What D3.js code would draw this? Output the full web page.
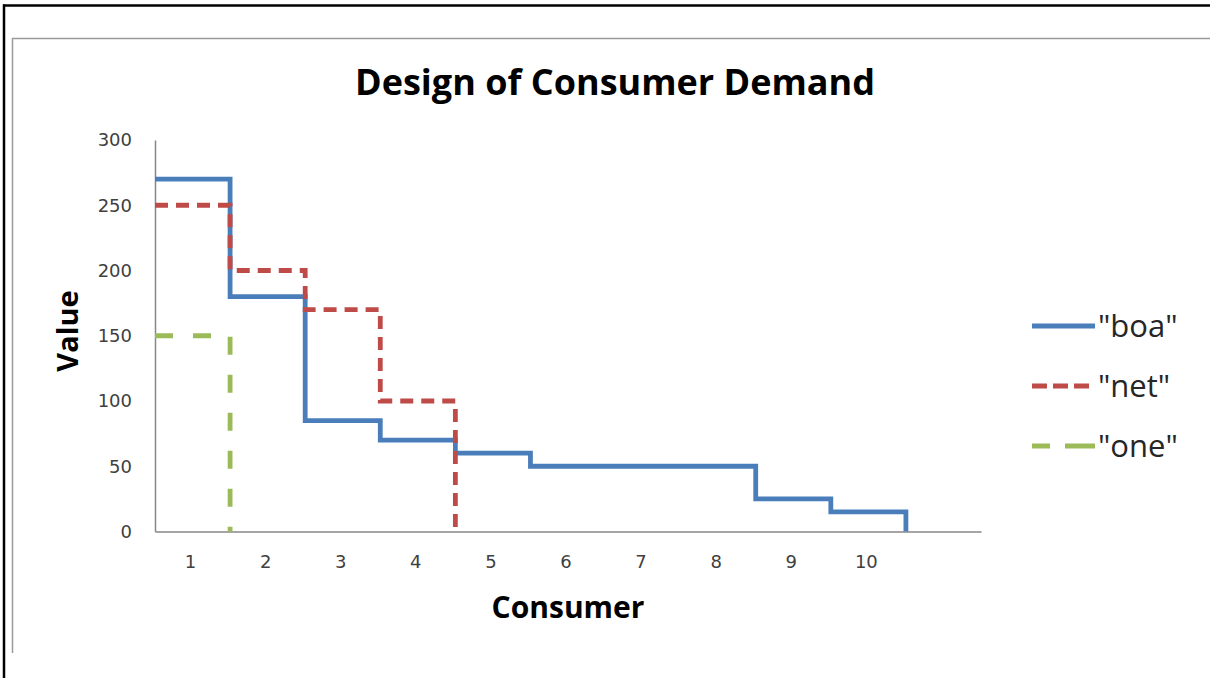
<!DOCTYPE html>
<html>
<head>
<meta charset="utf-8">
<script src="https://cdn.jsdelivr.net/npm/d3@7"></script>
<style>
  html, body { margin: 0; padding: 0; background: #fff; }
  svg { display: block; }
</style>
</head>
<body>
<svg id="chart" width="1210" height="678"></svg>
<script>
// Consumer slots on the category axis (the last slot is left unlabelled)
const consumers = ["1", "2", "3", "4", "5", "6", "7", "8", "9", "10", ""];
// Demand value of each consumer, per series
const boaValues = [270, 180, 85, 70, 60, 50, 50, 50, 25, 15];
const netValues = [250, 200, 170, 100];
const oneValues = [150];
const seriesNames = ['"boa"', '"net"', '"one"'];
const yTicks = [0, 50, 100, 150, 200, 250, 300];

const series = [
  { name: seriesNames[0], values: boaValues, color: "#4a7ebb", dash: null, legendDash: null },
  { name: seriesNames[1], values: netValues, color: "#be4b48", dash: "13,8", legendDash: "15,6" },
  { name: seriesNames[2], values: oneValues, color: "#9bbb59", dash: "18,20", legendDash: "18,15,30" }
];

const svg = d3.select("#chart");

// Page frame: black border and the grey chart-area edge
svg.append("line").attr("x1", 3).attr("x2", 1210).attr("y1", 5.5).attr("y2", 5.5)
  .attr("stroke", "#000").attr("stroke-width", 2.5);
svg.append("line").attr("x1", 4).attr("x2", 4).attr("y1", 4.5).attr("y2", 678)
  .attr("stroke", "#000").attr("stroke-width", 2.5);
svg.append("line").attr("x1", 12).attr("x2", 1210).attr("y1", 38.5).attr("y2", 38.5)
  .attr("stroke", "#9a9a9a").attr("stroke-width", 1.5);
svg.append("line").attr("x1", 12.5).attr("x2", 12.5).attr("y1", 38).attr("y2", 653)
  .attr("stroke", "#9a9a9a").attr("stroke-width", 1.5);

const plot = { left: 155, right: 981, top: 140, bottom: 531.5 };

const x = d3.scaleBand().domain(consumers).range([plot.left, plot.right]).padding(0);
const y = d3.scaleLinear().domain([0, 300]).range([plot.bottom, plot.top]);

// Title
svg.append("text")
  .attr("x", 615).attr("y", 95)
  .attr("text-anchor", "middle")
  .attr("font-family", "'Open Sans', sans-serif")
  .attr("font-weight", "bold")
  .attr("font-size", 36)
  .attr("fill", "#000")
  .text("Design of Consumer Demand");

// Y axis
const yAxis = svg.append("g")
  .attr("transform", `translate(${plot.left},0)`)
  .call(d3.axisLeft(y).tickValues(yTicks).tickSize(0).tickPadding(23));
yAxis.select(".domain").attr("stroke", "#878787").attr("stroke-width", 1.5);
yAxis.selectAll("text")
  .attr("font-family", "'DejaVu Sans', sans-serif")
  .attr("font-size", 18)
  .attr("fill", "#404040");

// X axis
const xAxis = svg.append("g")
  .attr("transform", `translate(0,${plot.bottom})`)
  .call(d3.axisBottom(x).tickSize(0).tickPadding(24));
xAxis.select(".domain").attr("stroke", "#878787").attr("stroke-width", 1.5);
xAxis.selectAll("text")
  .attr("font-family", "'DejaVu Sans', sans-serif")
  .attr("font-size", 18)
  .attr("fill", "#404040")
  .attr("dx", -2);

// Axis titles
svg.append("text")
  .attr("transform", "translate(78,331) rotate(-90)")
  .attr("text-anchor", "middle")
  .attr("font-family", "'Open Sans', sans-serif")
  .attr("font-weight", "bold")
  .attr("font-size", 29)
  .attr("fill", "#000")
  .text("Value");

svg.append("text")
  .attr("x", 568).attr("y", 618)
  .attr("text-anchor", "middle")
  .attr("font-family", "'Open Sans', sans-serif")
  .attr("font-weight", "bold")
  .attr("font-size", 30)
  .attr("fill", "#000")
  .text("Consumer");

// Step lines: each consumer holds its value across its slot,
// and the curve drops to zero after the last consumer.
const stepLine = d3.line()
  .x(d => d[0])
  .y(d => y(d[1]))
  .curve(d3.curveStepAfter);

function stepPoints(values) {
  const pts = values.map((v, i) => [x(consumers[i]), v]);
  const last = values.length - 1;
  const endX = x(consumers[last]) + x.bandwidth();
  pts.push([endX, values[last]]);
  pts.push([endX, 0]);
  return pts;
}

// Series are drawn in order, so later ones sit on top
svg.append("g").selectAll("path")
  .data(series)
  .join("path")
  .attr("d", d => stepLine(stepPoints(d.values)))
  .attr("fill", "none")
  .attr("stroke", d => d.color)
  .attr("stroke-width", 4.8)
  .attr("stroke-dasharray", d => d.dash)
  .attr("stroke-linejoin", "miter");

// Legend
const legend = svg.append("g").attr("transform", "translate(1032,0)");
const legendY = d3.scalePoint().domain(seriesNames).range([326, 446]);
const item = legend.selectAll("g")
  .data(series)
  .join("g")
  .attr("transform", d => `translate(0,${legendY(d.name)})`);
item.append("line")
  .attr("x1", 0).attr("x2", 63).attr("y1", 0).attr("y2", 0)
  .attr("stroke", d => d.color)
  .attr("stroke-width", 4.8)
  .attr("stroke-dasharray", d => d.legendDash);
item.append("text")
  .attr("x", 66).attr("y", 11)
  .attr("font-family", "'Open Sans', sans-serif")
  .attr("font-size", 31)
  .attr("fill", "#262626")
  .text(d => d.name);
</script>
</body>
</html>
